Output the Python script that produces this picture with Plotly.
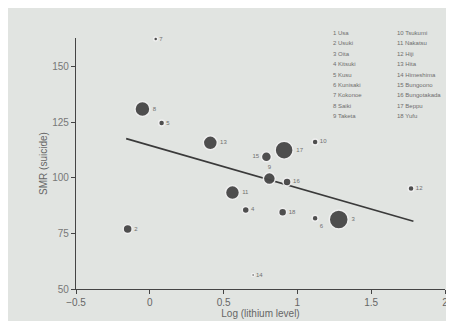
import plotly.graph_objects as go

# Data
labels = ["7", "2", "8", "5", "13", "15", "17", "10", "9", "16", "11", "4", "18", "6", "3", "12", "14"]
log_lithium = [0.04, -0.15, -0.05, 0.08, 0.41, 0.79, 0.91, 1.12, 0.81, 0.93, 0.56, 0.65, 0.90, 1.12, 1.28, 1.77, 0.70]
smr = [162.5, 77, 131, 124.7, 115.8, 109.5, 112.5, 116.2, 99.7, 98.2, 93.4, 85.6, 84.5, 81.8, 81.3, 95.2, 56.3]
weight = [4, 9, 15, 6, 14, 10, 18, 6, 12, 8, 14, 7, 8, 6, 19, 6, 3]
fit_x = [-0.16, 1.786]
fit_y = [117.7, 80.5]

legend_left = ["1 Usa", "2 Usuki", "3 Oita", "4 Kitsuki", "5 Kusu", "6 Kunisaki",
               "7 Kokonoe", "8 Saiki", "9 Taketa"]
legend_right = ["10 Tsukumi", "11 Nakatsu", "12 Hiji", "13 Hita", "14 Himeshima",
                "15 Bungoono", "16 Bungotakada", "17 Beppu", "18 Yufu"]

positions = []
for lab in labels:
    if lab == "9":
        positions.append("top center")
    elif lab == "15":
        positions.append("middle left")
    elif lab == "6":
        positions.append("bottom right")
    else:
        positions.append("middle right")

fig = go.Figure()
fig.add_trace(go.Scatter(
    x=fit_x, y=fit_y, mode="lines",
    line=dict(color="#3a3a3a", width=1.6), hoverinfo="skip", showlegend=False))
fig.add_trace(go.Scatter(
    x=log_lithium, y=smr, mode="markers+text",
    text=labels, textposition=positions, cliponaxis=False,
    textfont=dict(size=6, color="#707070", family="Liberation Sans"),
    marker=dict(size=weight, color="#474747",
                line=dict(color="#f0f0f0", width=1.5), opacity=0.95),
    showlegend=False))

bg = "#e1e4e1"
fig.update_layout(
    width=454, height=321,
    margin=dict(l=68, r=17, t=30, b=37),
    paper_bgcolor=bg, plot_bgcolor=bg,
    font=dict(family="Liberation Sans", color="#555555", size=10),
    xaxis=dict(range=[-0.5, 2.0], tickvals=[-0.5, 0, 0.5, 1, 1.5, 2],
               ticktext=["\u22120.5", "0", "0.5", "1", "1.5", "2"],
               showgrid=False, zeroline=False, showline=True, linecolor="#444444",
               linewidth=1.2, ticks="outside", ticklen=4, tickcolor="#444444",
               tickfont=dict(size=10, color="#666666"),
               title=dict(text="Log (lithium level)", font=dict(size=10, color="#666666"),
                          standoff=2)),
    yaxis=dict(range=[50, 163], tickvals=[50, 75, 100, 125, 150],
               showgrid=False, zeroline=False, showline=True, linecolor="#444444",
               linewidth=1.2, ticks="outside", ticklen=4, tickcolor="#444444",
               tickfont=dict(size=10, color="#777777"),
               title=dict(text="SMR (suicide)", font=dict(size=10, color="#666666"),
                          standoff=2)),
)

for i, t in enumerate(legend_left):
    fig.add_annotation(x=323, y=25 + i * 10.5, xref="paper", yref="paper", text=t,
                       showarrow=False, xanchor="left", yanchor="middle",
                       font=dict(size=6, color="#6e6e6e"))
for i, t in enumerate(legend_right):
    fig.add_annotation(x=387, y=25 + i * 10.5, xref="paper", yref="paper", text=t,
                       showarrow=False, xanchor="left", yanchor="middle",
                       font=dict(size=6, color="#6e6e6e"))

# Convert pixel legend positions to paper coordinates
pw = 454 - 68 - 17
ph = 321 - 30 - 37
for ann in fig.layout.annotations:
    ann.x = (ann.x - 68) / pw
    ann.y = 1 - (ann.y - 30) / ph

fig.write_html("out.html")
